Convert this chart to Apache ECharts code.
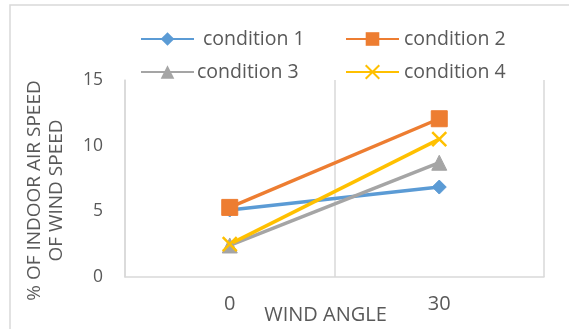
<!DOCTYPE html>
<html>
<head>
<meta charset="utf-8">
<script src="https://cdn.jsdelivr.net/npm/echarts@6/dist/echarts.min.js"></script>
<style>html,body{margin:0;padding:0;background:#fff}#c{width:569px;height:329px}</style>
</head>
<body>
<div id="c"></div>
<script>
var categories = ['0', '30'];
var cond1 = [5.1, 6.85];
var cond2 = [5.3, 12.05];
var cond3 = [2.4, 8.7];
var cond4 = [2.5, 10.5];
var seriesNames = ['condition 1', 'condition 2', 'condition 3', 'condition 4'];
var colors = ['#5B9BD5', '#ED7D31', '#A5A5A5', '#FFC000'];

var chart = echarts.init(document.getElementById('c'));
var txt = '#595959';
var font = 'Open Sans, Liberation Sans, sans-serif';
var xPath = 'path://M0,0L10,10M10,0L0,10';
function mk(name, data, color, symbol, size, extra) {
  return {
    name: name, type: 'line', data: data,
    symbol: symbol, symbolSize: size,
    lineStyle: {color: color, width: 3.5},
    itemStyle: Object.assign({color: color, borderColor: color}, extra || {}),
    emphasis: {disabled: true}
  };
}
function li(i, pad) {
  var o = {name: seriesNames[i], textStyle: {padding: [0, 0, 0, pad]}};
  if (i === 3) o.itemStyle = {borderColor: colors[3], borderWidth: 2, color: colors[3]};
  return o;
}
var legendText = {color: txt, fontSize: 19.5, lineHeight: 20, fontFamily: font};
chart.setOption({
  animation: false,
  backgroundColor: '#fff',
  graphic: [{type: 'rect', shape: {x: 10, y: 5, width: 600, height: 400},
    style: {fill: 'none', stroke: '#d9d9d9', lineWidth: 1.5}}],
  legend: [{
    data: [li(0, 4), li(2, -2)],
    orient: 'vertical', left: 140, top: 29, padding: 0, itemWidth: 53, itemHeight: 17, itemGap: 13,
    textStyle: legendText
  }, {
    data: [li(1, 0), li(3, 0)],
    orient: 'vertical', left: 345, top: 29, padding: 0, itemWidth: 53, itemHeight: 17, itemGap: 13,
    textStyle: legendText
  }],
  grid: {left: 125, right: 25, top: 80, bottom: 52, containLabel: false, outerBoundsMode: 'none'},
  xAxis: {
    type: 'category', data: categories, boundaryGap: true,
    name: 'WIND ANGLE', nameLocation: 'middle', nameGap: 28, nameMoveOverlap: false,
    nameTextStyle: {color: txt, fontSize: 20, fontFamily: font, padding: [0, 18, 0, 0]},
    axisLine: {lineStyle: {color: '#d9d9d9', width: 1.5}},
    axisTick: {show: false},
    axisLabel: {color: txt, fontSize: 20, fontFamily: font, margin: 17},
    splitLine: {show: true, lineStyle: {color: '#d9d9d9', width: 1.5}}
  },
  yAxis: {
    type: 'value', min: 0, max: 15, interval: 5,
    name: '% OF INDOOR AIR SPEED\nOF WIND SPEED', nameLocation: 'middle', nameGap: 57, nameMoveOverlap: false,
    nameTextStyle: {color: txt, fontSize: 19, fontFamily: font, lineHeight: 22, padding: [0, 24, 0, 0]},
    axisLine: {show: true, lineStyle: {color: '#d9d9d9', width: 1.5}},
    axisTick: {show: false},
    splitLine: {show: false},
    axisLabel: {color: txt, fontSize: 17.5, fontFamily: font, margin: 22}
  },
  series: [
    mk(seriesNames[0], cond1, colors[0], 'diamond', 14),
    mk(seriesNames[1], cond2, colors[1], 'rect', 16),
    mk(seriesNames[2], cond3, colors[2], 'triangle', 15),
    mk(seriesNames[3], cond4, colors[3], xPath, 14, {borderWidth: 2.5})
  ]
});
</script>
</body>
</html>
